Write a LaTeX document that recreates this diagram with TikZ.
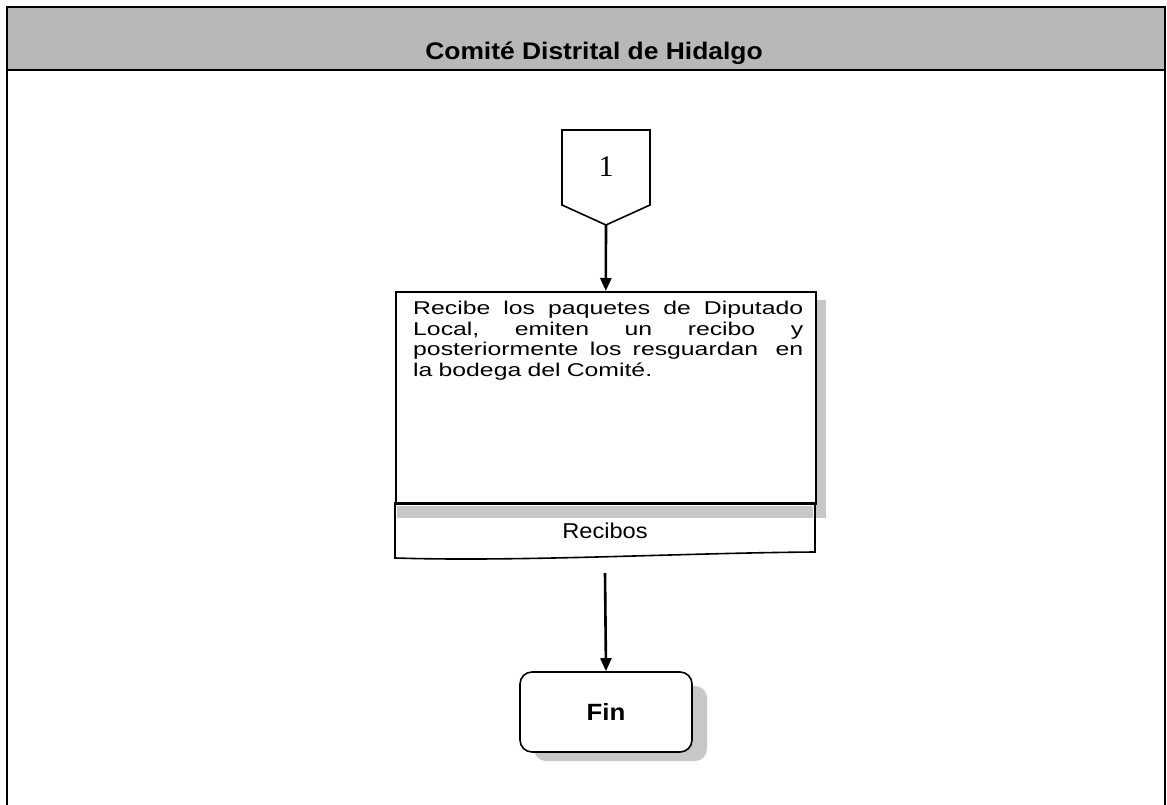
\documentclass[tikz,border=0pt]{standalone}
\usepackage{fontspec}
\setmainfont[FakeStretch=1.1]{Liberation Sans}
\newfontfamily\bodyfont[FakeStretch=1.34]{Liberation Sans}
\newfontfamily\numfont{Liberation Serif}
\usetikzlibrary{arrows.meta}
\tikzset{
  hdrfill/.style={fill=black!28},
  shade/.style={fill=black!22},
  shapeline/.style={draw=black, line width=1.6pt},
  arr/.style={draw=black, line width=2.6pt, -{Triangle[length=13pt,width=11pt]}},
}
\newcommand{\jline}[1]{\makebox[390pt][l]{#1}}
\begin{document}
\begin{tikzpicture}[x=1pt,y=-1pt]
\useasboundingbox (0,0) rectangle (1167,805);
% header band and frame
\fill[hdrfill] (7,7) rectangle (1165,70);
\draw[line width=1.2pt] (7,805) -- (7,7) -- (1165,7) -- (1165,805);
\draw[line width=1.4pt] (7,70) -- (1165,70);
\node[font=\bfseries\fontsize{24}{28}\selectfont] (title) at (594,53) {Comité Distrital de Hidalgo};
% off-page connector
\draw[shapeline, fill=white] (562,130) -- (650,130) -- (650,205) -- (606,225) -- (562,205) -- cycle;
\node[font=\numfont\fontsize{30}{32}\selectfont] (conn) at (606,167) {1};
\coordinate (conntip) at (606,225);
% process box with shadow
\fill[shade] (815,300) rectangle (826,518);
\node[shapeline, fill=white, minimum width=420pt, minimum height=212pt, anchor=north west, inner sep=0] (proc) at (395,291) {};
\node[anchor=north west, inner sep=0, text width=390pt, align=left, font=\bodyfont\fontsize{18.5}{20.5}\selectfont] (ptext) at (413,301) {%
\jline{Recibe\hfill los\hfill paquetes\hfill de\hfill Diputado}\\
\jline{Local,\hfill emiten\hfill un\hfill recibo\hfill y}\\
\jline{posteriormente\hfill los\hfill resguardan\hfill\ en}\\
la bodega del Comité.};
% document part
\coordinate (dtl) at (395,503);
\coordinate (dtr) at (815,503);
\draw[shapeline, fill=white] (dtl) -- (dtr) -- (815,552) .. controls (680,553) and (520,562) .. (395,558) -- cycle;
\fill[shade] (397,506) rectangle (813,518);
\draw[line width=3pt] (dtl) -- (dtr);
\node[font=\fontsize{21.5}{24}\selectfont] (doc) at (605,531) {Recibos};
\coordinate (docout) at (605,573);
% end terminator with shadow
\fill[shade, rounded corners=12pt] (534,686) rectangle (707,761);
\node[shapeline, fill=white, rounded corners=12pt, minimum width=172pt, minimum height=80pt, font=\bfseries\fontsize{23.5}{26}\selectfont] (fin) at (606,712) {Fin};
% connectors
\draw[arr] (conntip) -- (proc.north);
\draw[arr] (docout) -- (fin.north);
\end{tikzpicture}
\end{document}
